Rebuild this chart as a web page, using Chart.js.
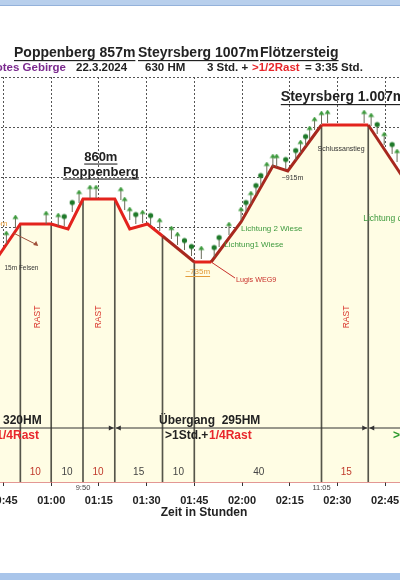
<!DOCTYPE html>
<html>
<head>
<meta charset="utf-8">
<script src="https://cdn.jsdelivr.net/npm/chart.js@4.4.1/dist/chart.umd.min.js"></script>
<style>
  html, body { margin: 0; padding: 0; background: #fff; }
  body { width: 400px; height: 580px; overflow: hidden; position: relative; }
  #wrap { position: absolute; left: -100px; top: 0; width: 600px; height: 580px; }
  #topband { position: absolute; left: 0; top: 0; width: 400px; height: 5px; background: #B8CFEC; border-bottom: 1px solid #93B1DA; z-index: 2; }
  #botband { position: absolute; left: 0; top: 573px; width: 400px; height: 7px; background: #A9C5EA; z-index: 2; }
</style>
</head>
<body>
<div id="topband"></div>
<div id="wrap"><canvas id="profile"></canvas></div>
<div id="botband"></div>
<script>
// Hoehenprofil: Zeit in Minuten, Hoehe in Metern
const walkTime = [40, 50.3, 60, 65.3, 70, 80, 84.7, 90.3, 95, 105, 110.3, 119.7, 129.7, 134.4, 145, 159.7, 175];
const walkElev = [710, 806, 806, 796, 856, 856, 796, 806, 782, 730, 730, 810, 922, 912, 1004, 1004, 857];

// senkrechte Striche an den Etappenpunkten
const stopTime = [50.3, 60, 70, 80, 95, 105, 145, 159.7];
const stopElev = [806, 806, 856, 856, 782, 730, 1004, 1004];

// Baeume
const arrowTreeTime = [45.9, 48.75, 58.4, 62.2, 68.75, 72.2, 74.1, 81.9, 83.1, 84.7, 88.75, 94.1, 97.8, 99.7, 107.2, 115.9, 119.7, 122.8, 127.8, 129.7, 130.9, 138.4, 141.25, 142.8, 145, 146.9, 158.4, 160.6, 164.7, 168.75];
const arrowTreeElev = [780, 812, 820, 816, 862, 872, 872, 868, 848, 828, 822, 806, 790, 778, 750, 798, 828, 860, 918, 934, 934, 962, 990, 1008, 1020, 1022, 1022, 1016, 978, 944];
const roundTreeTime = [64.1, 66.6, 86.6, 91.25, 101.9, 104.1, 111.25, 112.8, 121.25, 124.4, 125.9, 133.75, 136.9, 140, 162.5, 167.2];
const roundTreeElev = [816, 844, 820, 818, 768, 756, 754, 774, 844, 878, 898, 930, 948, 976, 1000, 960];

const tickMinutes = [45, 60, 75, 90, 105, 120, 135, 150, 165, 180];
const elevTicks = [300, 400, 500, 600, 700, 800, 900, 1000, 1100];

// Minuten je Abschnitt
const legText = ['10', '10', '10', '15', '10', '40', '15'];
const legMid = [55, 65, 74.7, 87.5, 100, 125.3, 152.8];
const legRest = [true, false, true, false, false, false, true];
const restAt = [55.6, 75, 152.8];

const clockText = ['9:50', '11:05'];
const clockAt = [70, 145];

const OX = 100;          // Canvas steht 100px links ausserhalb
const AXIS_Y = 482;      // Lage der Zeitachse im Bild
const PX_PER_MIN = 3.18; // 15 Minuten ~ 48px
const X45 = 3.5;         // Bildlage von 00:45
const FONT = '"Liberation Sans", Arial, sans-serif';
const RED = '#E3231D';
const DARKRED = '#A8281E';
const GREEN = '#3E9A3E';

Chart.defaults.font.family = FONT;

function makeTree(round) {
  const c = document.createElement('canvas');
  c.width = 7;
  c.height = 13;
  const g = c.getContext('2d');
  g.fillStyle = '#6b6b5a';
  g.fillRect(3, 4, 1, 9);
  if (round) {
    g.fillStyle = '#1F7A2A';
    g.beginPath();
    g.arc(3.5, 4, 2.6, 0, Math.PI * 2);
    g.fill();
  } else {
    g.fillStyle = '#3C9A3C';
    g.beginPath();
    g.moveTo(3.5, 0);
    g.lineTo(6.5, 4.5);
    g.lineTo(0.5, 4.5);
    g.closePath();
    g.fill();
  }
  return c;
}
const arrowTree = makeTree(false);
const roundTree = makeTree(true);

function pts(xs, ys) {
  return xs.map((x, i) => ({ x: x, y: ys[i] }));
}

function fmt(m) {
  const h = Math.floor(m / 60);
  const mm = m % 60;
  return String(h).padStart(2, '0') + ':' + String(mm).padStart(2, '0');
}

function txt(ctx, s, x, y, o) {
  ctx.save();
  ctx.font = (o.bold ? 'bold ' : '') + o.size + 'px ' + FONT;
  ctx.fillStyle = o.color || '#222';
  ctx.textAlign = o.align || 'left';
  ctx.textBaseline = 'middle';
  if (o.rotate) {
    ctx.translate(x, y);
    ctx.rotate(o.rotate);
    ctx.fillText(s, 0, 0);
  } else {
    ctx.fillText(s, x, y);
    if (o.underline) {
      const w = ctx.measureText(s).width;
      const x0 = o.align === 'center' ? x - w / 2 : o.align === 'right' ? x - w : x;
      ctx.fillRect(x0, y + o.size * 0.5, w, Math.max(1, o.size / 12));
    }
  }
  ctx.restore();
}

const notes = [
  { text: 'Steyrsberg 1.007m', t: 132.2, e: 1060, size: 14, bold: true, underline: true },
  { text: '860m', t: 75.6, e: 940, size: 13, bold: true, underline: true, align: 'center' },
  { text: 'Poppenberg', t: 75.6, e: 910, size: 13, bold: true, underline: true, align: 'center' },
  { text: 'Schlussanstieg', t: 143.75, e: 956, size: 7, color: '#333' },
  { text: '~915m', t: 132.5, e: 898, size: 7, color: '#333' },
  { text: 'Lichtung 2 Wiese', t: 119.7, e: 796, size: 8, color: GREEN },
  { text: 'Lichtung1 Wiese', t: 114.4, e: 764, size: 8, color: GREEN },
  { text: 'Lichtung durch', t: 158.1, e: 816, size: 8.5, color: GREEN },
  { text: 'Lugis WEG9', t: 118.1, e: 694, size: 7.2, color: '#C8302A' },
  { text: '~735m', t: 102.2, e: 710, size: 8, color: '#E39B3A', underline: true },
  { text: '15m Felsen', t: 45.3, e: 718, size: 6.5, color: '#333' },
  { text: '~805m', t: 46.25, e: 806, size: 8, color: '#E39B3A', align: 'right' }
];

const notesPlugin = {
  id: 'notes',
  afterDraw(chart) {
    const ctx = chart.ctx;
    const sx = chart.scales.x;
    const sy = chart.scales.y;
    const px = t => sx.getPixelForValue(t);
    const py = e => sy.getPixelForValue(e);

    // Titel
    txt(ctx, 'Poppenberg 857m', OX + 14, 53, { size: 14, bold: true, underline: true });
    txt(ctx, 'Steyrsberg 1007m', OX + 138, 53, { size: 14, bold: true, underline: true });
    txt(ctx, 'Flötzersteig', OX + 260, 53, { size: 14, bold: true, underline: true });
    txt(ctx, 'Rotes Gebirge', OX + 66, 68, { size: 11.5, bold: true, color: '#7B2A8E', align: 'right' });
    txt(ctx, '22.3.2024', OX + 76, 68, { size: 11.5, bold: true });
    txt(ctx, '630 HM', OX + 145, 68, { size: 11.5, bold: true });
    txt(ctx, '3 Std. +', OX + 207, 68, { size: 11.5, bold: true });
    txt(ctx, '>1/2Rast', OX + 252, 68, { size: 11.5, bold: true, color: '#E8262B' });
    txt(ctx, '= 3:35 Std.', OX + 305, 68, { size: 11.5, bold: true });

    notes.forEach(n => txt(ctx, n.text, px(n.t), py(n.e), n));

    // Hinweislinien
    ctx.save();
    ctx.lineWidth = 1;
    ctx.strokeStyle = '#C8302A';
    ctx.beginPath();
    ctx.moveTo(px(110.3), py(730));
    ctx.lineTo(px(117.8), py(698));
    ctx.stroke();
    ctx.strokeStyle = '#A0503A';
    ctx.beginPath();
    ctx.moveTo(px(48.1), py(788));
    ctx.lineTo(px(55.6), py(764));
    ctx.stroke();
    ctx.fillStyle = '#A0503A';
    ctx.beginPath();
    ctx.moveTo(px(55.6) + 1, py(764) + 1);
    ctx.lineTo(px(55.6) - 4, py(764) + 0);
    ctx.lineTo(px(55.6) - 1, py(764) - 4);
    ctx.fill();
    ctx.restore();

    // RAST
    restAt.forEach(t => txt(ctx, 'RAST', px(t), py(620), { size: 8.5, color: '#D9342B', align: 'center', rotate: -Math.PI / 2 }));

    // Minuten je Abschnitt
    legText.forEach((s, i) => txt(ctx, s, px(legMid[i]), py(310), { size: 10, color: legRest[i] ? '#C0392B' : '#444', align: 'center' }));

    // Uhrzeiten
    clockText.forEach((s, i) => txt(ctx, s, px(clockAt[i]), 488, { size: 7.5, color: '#444', align: 'center' }));

    // Achsentitel
    txt(ctx, 'Zeit in Stunden', OX + 204, 513, { size: 12, bold: true, align: 'center' });

    // Hoehenmeter-Pfeile
    const ay = py(398);
    const spans = [[30, 80], [80, 159.7], [159.7, 200]];
    ctx.save();
    ctx.strokeStyle = '#333';
    ctx.fillStyle = '#333';
    ctx.lineWidth = 1;
    spans.forEach(s => {
      const a = px(s[0]) + 1;
      const b = px(s[1]) - 1;
      ctx.beginPath();
      ctx.moveTo(a, ay);
      ctx.lineTo(b, ay);
      ctx.stroke();
      ctx.beginPath();
      ctx.moveTo(b, ay); ctx.lineTo(b - 5, ay - 2.5); ctx.lineTo(b - 5, ay + 2.5); ctx.fill();
      ctx.beginPath();
      ctx.moveTo(a, ay); ctx.lineTo(a + 5, ay - 2.5); ctx.lineTo(a + 5, ay + 2.5); ctx.fill();
    });
    ctx.restore();
    txt(ctx, '320HM', OX + 3, 421, { size: 12, bold: true });
    txt(ctx, '+ 1/4Rast', OX + 39, 436, { size: 12, bold: true, color: '#E8262B', align: 'right' });
    txt(ctx, 'Übergang  295HM', OX + 159, 421, { size: 12, bold: true });
    txt(ctx, '>1Std.+', OX + 165, 436, { size: 12, bold: true });
    txt(ctx, '1/4Rast', OX + 209, 436, { size: 12, bold: true, color: '#E8262B' });
    txt(ctx, '>', OX + 393, 436, { size: 12, bold: true, color: '#2E9A2E' });
  }
};

const darkSegments = [8, 10, 11, 12, 13, 15];

const chart = new Chart(document.getElementById('profile'), {
  type: 'line',
  data: {
    datasets: [
      {
        label: 'Flaeche',
        data: pts(walkTime, walkElev),
        fill: 'start',
        backgroundColor: '#FFFDE4',
        borderWidth: 0,
        pointRadius: 0,
        order: 4
      },
      {
        type: 'bar',
        label: 'Etappen',
        data: pts(stopTime, stopElev),
        backgroundColor: '#55554a',
        barThickness: 1,
        grouped: false,
        order: 3
      },
      {
        label: 'Weg',
        data: pts(walkTime, walkElev),
        fill: false,
        borderColor: RED,
        borderWidth: 3,
        pointRadius: 0,
        segment: {
          borderColor: c => darkSegments.includes(c.p0DataIndex) ? DARKRED : RED
        },
        order: 2
      },
      {
        label: 'Baum',
        data: pts(arrowTreeTime, arrowTreeElev),
        showLine: false,
        pointStyle: arrowTree,
        order: 1
      },
      {
        label: 'Baum rund',
        data: pts(roundTreeTime, roundTreeElev),
        showLine: false,
        pointStyle: roundTree,
        order: 1
      }
    ]
  },
  options: {
    responsive: true,
    maintainAspectRatio: false,
    animation: false,
    layout: { padding: { top: 77, bottom: 70, left: 0, right: 0 } },
    plugins: {
      legend: { display: false },
      tooltip: { enabled: false }
    },
    scales: {
      x: {
        type: 'linear',
        min: 12.8,
        max: 200.3,
        offset: false,
        afterBuildTicks: s => { s.ticks = tickMinutes.map(v => ({ value: v })); },
        ticks: {
          callback: v => fmt(v),
          font: { size: 11, weight: 'bold' },
          color: '#222',
          padding: 8,
          maxRotation: 0,
          autoSkip: false
        },
        grid: {
          color: '#555',
          lineWidth: 1,
          tickLength: 4,
          tickColor: '#333',
          tickBorderDash: [],
          offset: false
        },
        border: { display: true, color: '#C8302A', width: 1.5, dash: [2, 2] }
      },
      y: {
        min: 290,
        max: 1100,
        afterBuildTicks: s => { s.ticks = elevTicks.map(v => ({ value: v })); },
        ticks: { display: false },
        grid: { color: '#555', lineWidth: 1, drawTicks: false },
        border: { display: false, dash: [2, 2] }
      }
    }
  },
  plugins: [notesPlugin]
});

// Achse auf die Bildlage einpassen
chart.options.layout.padding.bottom += chart.chartArea.bottom - AXIS_Y;
chart.update();
const area = chart.chartArea;
chart.options.scales.x.min = 45 + (area.left - OX - X45) / PX_PER_MIN;
chart.options.scales.x.max = 45 + (area.right - OX - X45) / PX_PER_MIN;
chart.update();
</script>
</body>
</html>
